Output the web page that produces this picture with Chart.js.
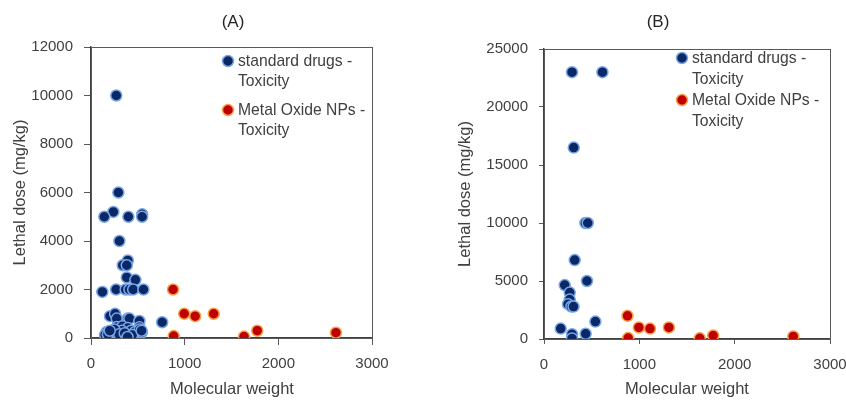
<!DOCTYPE html>
<html>
<head>
<meta charset="utf-8">
<script src="https://cdn.jsdelivr.net/npm/chart.js@4"></script>
<style>
  body { margin: 0; background: #fff; }
  .panel { position: absolute; top: 0; width: 423px; height: 400px; }
</style>
</head>
<body>
<div class="panel" style="left:0"><canvas id="chartA" width="423" height="400"></canvas></div>
<div class="panel" style="left:423px"><canvas id="chartB" width="423" height="400"></canvas></div>
<script>
// --- Data ---
// Panel (A): standard drugs, molecular weight vs lethal dose
const drugsA_mw = [270, 292, 239, 142, 399, 546, 546, 303, 393, 339, 382, 382, 474, 121, 268, 370, 410, 450, 560, 760,
  203, 257, 275, 392, 410, 517, 275, 335, 392, 517, 168, 221, 292, 399, 542, 150, 292, 410, 180, 330, 430, 470, 520, 250, 300, 360, 200, 440, 540, 390];
const drugsA_ld = [10000, 6000, 5200, 5000, 5000, 5100, 5000, 4000, 3200, 3000, 3000, 2500, 2400, 1900, 2000, 2000, 2000, 2000, 2000, 650,
  900, 1000, 800, 800, 800, 700, 450, 480, 410, 440, 250, 200, 180, 180, 230, 130, 50, 100, 150, 300, 300, 250, 350, 350, 150, 200, 300, 120, 300, 40];

// Panel (B): standard drugs
const drugsB_mw = [294, 613, 312, 434, 459, 322, 451, 217, 270, 270, 252, 287, 310, 539, 175, 437, 294, 294];
const drugsB_ld = [23000, 23000, 16500, 10000, 10000, 6800, 5000, 4650, 4000, 3400, 3000, 2800, 2800, 1500, 900, 450, 420, 50];

// Metal oxide NPs (same in both panels)
const npMw = [876, 995, 1112, 1310, 883, 1634, 1775, 2615];
const npLd = [2000, 1000, 900, 1000, 80, 60, 300, 220];

const legendLabels = [['standard drugs -', 'Toxicity'], ['Metal Oxide NPs -', 'Toxicity']];
const xTitle = 'Molecular weight';
const yTitle = 'Lethal dose (mg/kg)';

// --- Styles ---
const FONT = '"Liberation Sans", Arial, sans-serif';
const TEXT = '#404040';
const blueStyle = { fill: '#0a2866', border: '#7aa6e6' };
const redStyle = { fill: '#c00000', border: '#f7a24a' };

function toPoints(xs, ys) {
  return xs.map((x, i) => ({ x: x, y: ys[i] }));
}

function dataset(label, pts, st) {
  return {
    label: label,
    data: pts,
    backgroundColor: st.fill,
    borderColor: st.border,
    borderWidth: 1.5,
    pointRadius: 5.5,
    pointHoverRadius: 5.5
  };
}

function drawMarker(ctx, x, y, st) {
  ctx.beginPath();
  ctx.arc(x, y, 5.5, 0, Math.PI * 2);
  ctx.fillStyle = st.fill;
  ctx.fill();
  ctx.lineWidth = 1.5;
  ctx.strokeStyle = st.border;
  ctx.stroke();
}

// frame, titles, legend drawn on top of the chart
function decorPlugin(cfg) {
  return {
    id: 'decor',
    afterDraw(chart) {
      const ctx = chart.ctx;
      const a = chart.chartArea;
      ctx.save();
      ctx.strokeStyle = '#595959';
      ctx.lineWidth = 1;
      ctx.strokeRect(a.left + 0.5, a.top + 0.5, a.right - a.left, a.bottom - a.top);

      ctx.fillStyle = '#262626';
      ctx.font = '17px ' + FONT;
      ctx.textAlign = 'center';
      ctx.textBaseline = 'middle';
      ctx.fillText(cfg.title, cfg.titleX, 22);

      ctx.fillStyle = TEXT;
      ctx.font = '16.5px ' + FONT;
      ctx.fillText(xTitle, cfg.xTitleX, 389);
      ctx.save();
      ctx.translate(cfg.yTitleX, (a.top + a.bottom) / 2);
      ctx.rotate(-Math.PI / 2);
      ctx.fillText(yTitle, 0, 0);
      ctx.restore();

      // legend
      ctx.textAlign = 'left';
      ctx.font = '15.7px ' + FONT;
      const styles = [blueStyle, redStyle];
      cfg.legendY.forEach((ly, i) => {
        drawMarker(ctx, cfg.legendX, ly, styles[i]);
        ctx.fillStyle = TEXT;
        ctx.fillText(legendLabels[i][0], cfg.legendX + 10, ly + 1);
        ctx.fillText(legendLabels[i][1], cfg.legendX + 10, ly + 1 + cfg.lineGap);
      });
      ctx.restore();
    }
  };
}

function makeChart(id, drugs, yMax, yStep, box, cfg) {
  const tickFont = { family: FONT, size: 15 };
  return new Chart(document.getElementById(id), {
    type: 'scatter',
    data: {
      datasets: [
        dataset('standard drugs - Toxicity', drugs, blueStyle),
        dataset('Metal Oxide NPs - Toxicity', toPoints(npMw, npLd), redStyle)
      ]
    },
    options: {
      responsive: false,
      animation: false,
      layout: { padding: { left: 0, top: box.top, right: box.right, bottom: 0 } },
      plugins: { legend: { display: false }, tooltip: { enabled: false } },
      scales: {
        x: {
          type: 'linear', min: 0, max: 3000,
          ticks: { stepSize: 1000, color: TEXT, font: tickFont, padding: 17 - box.tl, maxRotation: 0, callback: v => String(v) },
          grid: { drawOnChartArea: false, drawTicks: true, tickLength: box.tl, color: '#595959' },
          border: { color: '#404040', width: 1.5 },
          afterFit: s => { s.height = box.xh; s.paddingLeft = 0; s.paddingRight = 0; }
        },
        y: {
          type: 'linear', min: 0, max: yMax,
          ticks: { stepSize: yStep, color: TEXT, font: tickFont, padding: 11, callback: v => String(v) },
          grid: { drawOnChartArea: false, drawTicks: true, tickLength: box.tl, color: '#595959' },
          border: { color: '#404040', width: 1.5 },
          afterFit: s => { s.width = box.yw; s.paddingTop = 0; s.paddingBottom = 0; }
        }
      }
    },
    plugins: [decorPlugin(cfg)]
  });
}

makeChart('chartA', toPoints(drugsA_mw, drugsA_ld), 12000, 2000,
  { top: 47, right: 51, xh: 62, yw: 91, tl: 7 },
  { title: '(A)', titleX: 233, xTitleX: 232, yTitleX: 20, legendX: 228, legendY: [61, 110], lineGap: 20 });

makeChart('chartB', toPoints(drugsB_mw, drugsB_ld), 25000, 5000,
  { top: 49, right: 16, xh: 61, yw: 121, tl: 5 },
  { title: '(B)', titleX: 235, xTitleX: 264, yTitleX: 42, legendX: 259, legendY: [58, 100], lineGap: 21 });
</script>
</body>
</html>
